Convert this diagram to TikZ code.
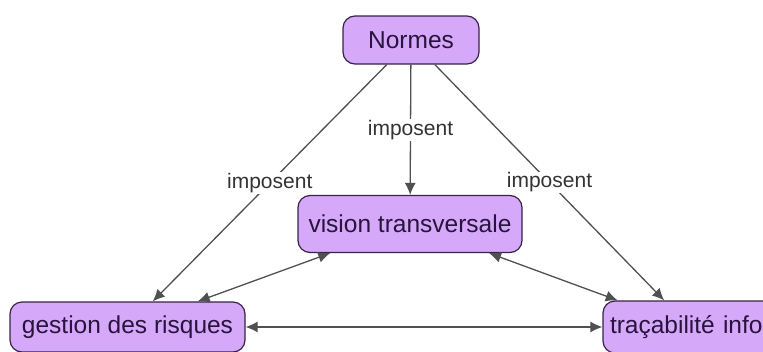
\documentclass[tikz,border=0pt]{standalone}
\usepackage{fontspec}
\setmainfont{Liberation Sans}
\usetikzlibrary{arrows.meta}
\definecolor{boxfill}{RGB}{214,168,250}
\definecolor{boxline}{RGB}{55,35,70}
\definecolor{boxtext}{RGB}{40,20,60}
\definecolor{lien}{RGB}{80,80,80}
\begin{document}
\begin{tikzpicture}[x=1pt,y=-1pt,
	concept/.style={rectangle,rounded corners=12pt,draw=boxline,fill=boxfill,
	line width=1.2pt,text=boxtext,font=\fontsize{24.5}{28}\selectfont,inner sep=0pt},
	fleche/.style={draw=lien,line width=1.3pt,-{Latex[length=12pt,width=11pt]}},
	double/.style={draw=lien,line width=1.3pt,{Latex[length=12pt,width=11pt]}-{Latex[length=12pt,width=11pt]}},
	etiq/.style={fill=white,inner sep=1pt,text=black!80,font=\fontsize{21}{24}\selectfont}]
\useasboundingbox (0,0) rectangle (763,351);
\node[concept,minimum width=136pt,minimum height=48pt] (normes) at (411,40) {Normes};
\node[concept,minimum width=224pt,minimum height=57pt] (vision) at (410,224) {vision transversale};
\node[concept,minimum width=235pt,minimum height=50pt] (gestion) at (127.5,327) {gestion des risques};
\node[concept,minimum width=174pt,minimum height=52pt,align=left,text width=160pt,inner xsep=7pt] (traca) at (690,327) {traçabilité info};
\draw[fleche] (normes) -- node[etiq] {imposent} (gestion);
\draw[fleche] (normes) -- node[etiq] {imposent} (vision);
\draw[fleche] (normes) -- node[etiq] {imposent} (traca);
\draw[double] (vision) -- (gestion);
\draw[double] (vision) -- (traca);
\draw[double] (gestion) -- (traca);
\end{tikzpicture}
\end{document}
